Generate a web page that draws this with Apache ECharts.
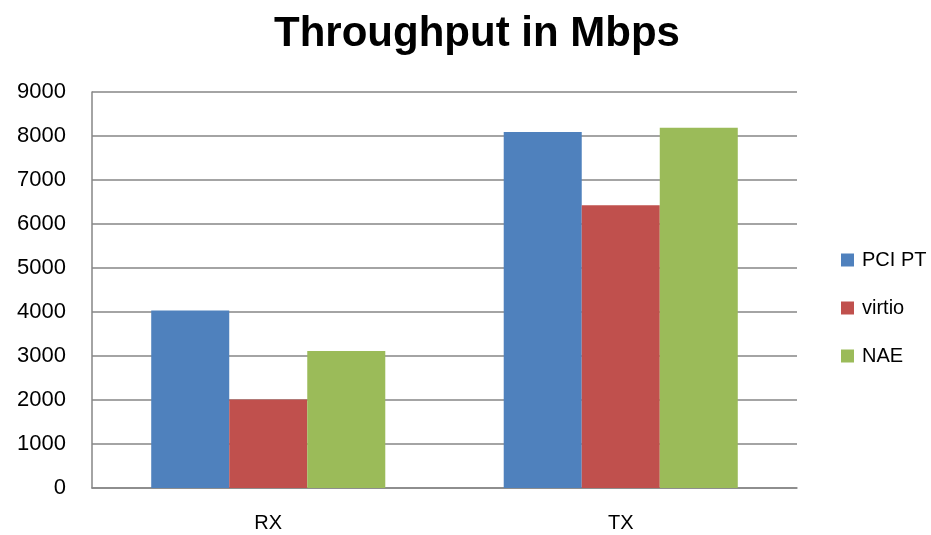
<!DOCTYPE html>
<html>
<head>
<meta charset="utf-8">
<script src="https://cdn.jsdelivr.net/npm/echarts@6/dist/echarts.min.js"></script>
<style>
  html, body { margin: 0; padding: 0; background: #ffffff; }
  #chart { width: 931px; height: 535px; }
</style>
</head>
<body>
<div id="chart"></div>
<script>
// Throughput per direction, in Mbps
const categories = ['RX', 'TX'];
const seriesNames = ['PCI PT', 'virtio', 'NAE'];
const pciPt = [4035, 8090];
const virtio = [2010, 6425];
const nae = [3115, 8185];
const yTicks = { min: 0, max: 9000, interval: 1000 };

const colors = ['#4F81BD', '#C0504D', '#9BBB59'];
const font = '"Liberation Sans", Arial, sans-serif';
const axisGray = '#868686';

const chart = echarts.init(document.getElementById('chart'), null, { renderer: 'canvas' });

const values = [pciPt, virtio, nae];

chart.setOption({
  backgroundColor: '#ffffff',
  animation: false,
  color: colors,
  title: {
    text: 'Throughput in Mbps',
    left: 472,
    top: 8,
    textAlign: 'center',
    textStyle: { fontFamily: font, fontWeight: 'bold', fontSize: 42, color: '#000000' }
  },
  legend: {
    orient: 'vertical',
    left: 841,
    top: 250,
    padding: 0,
    itemWidth: 13,
    itemHeight: 13,
    itemGap: 28,
    icon: 'rect',
    textStyle: { fontFamily: font, fontSize: 20, color: '#000000', padding: [0, 0, 0, 3] },
    data: seriesNames
  },
  grid: { left: 92, right: 134, top: 92, bottom: 47, containLabel: false },
  xAxis: {
    type: 'category',
    data: categories,
    axisLine: { show: true, lineStyle: { color: axisGray, width: 1.5 } },
    axisTick: { show: false },
    axisLabel: { fontFamily: font, fontSize: 20, color: '#000000', margin: 25 },
    splitLine: { show: false }
  },
  yAxis: {
    type: 'value',
    min: yTicks.min,
    max: yTicks.max,
    interval: yTicks.interval,
    axisLine: { show: true, lineStyle: { color: axisGray, width: 1.5 } },
    axisTick: { show: false },
    axisLabel: { fontFamily: font, fontSize: 22, color: '#000000', margin: 26, formatter: v => String(v) },
    splitLine: { show: true, lineStyle: { color: axisGray, width: 1.5 } }
  },
  series: seriesNames.map((name, i) => ({
    name: name,
    type: 'bar',
    data: values[i],
    barGap: '0%',
    barCategoryGap: '33.6%',
    itemStyle: { color: colors[i] }
  }))
});
</script>
</body>
</html>
